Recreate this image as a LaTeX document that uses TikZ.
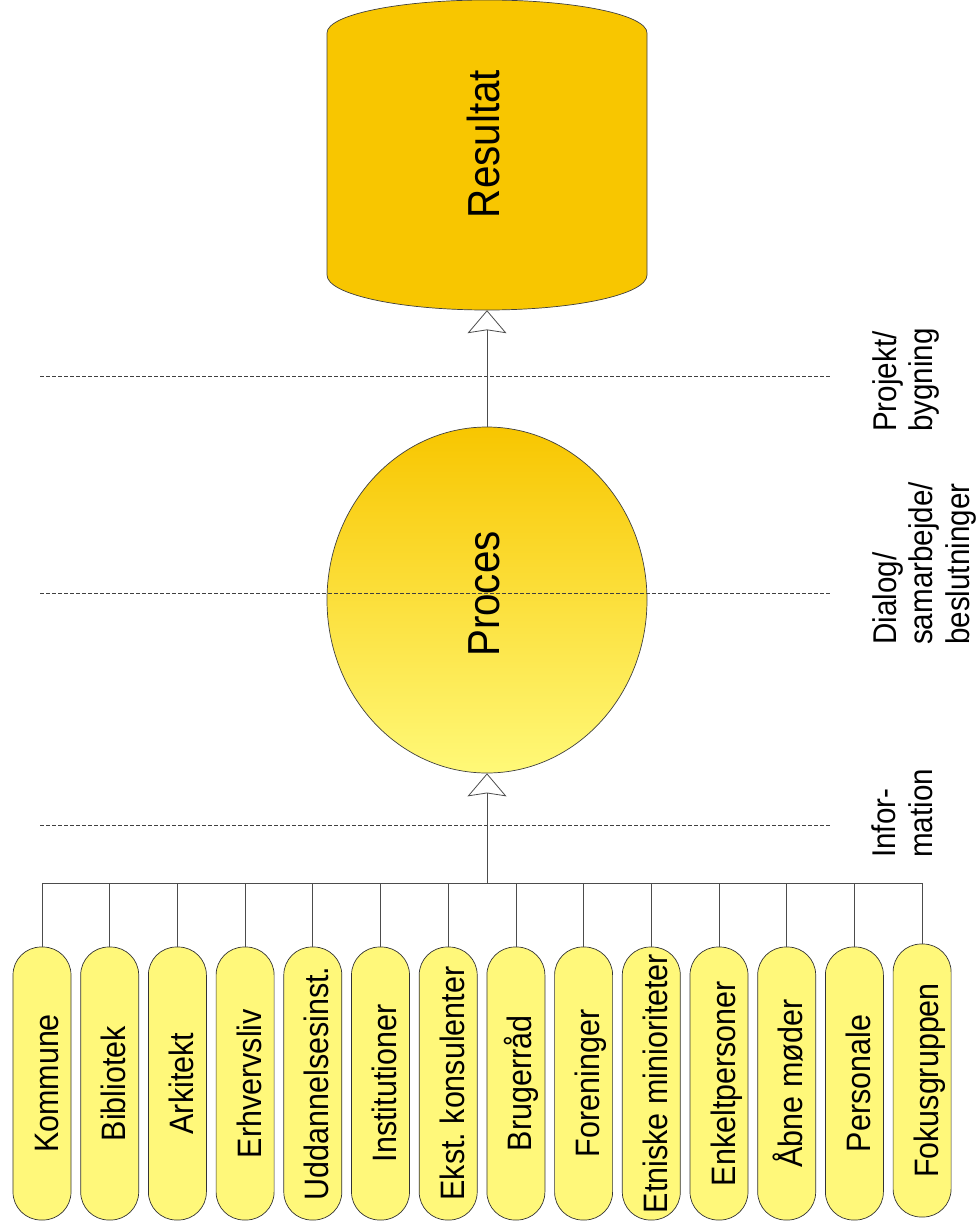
\documentclass[tikz,border=0pt]{standalone}
\usepackage{fontspec}
\setmainfont[FakeStretch=0.9]{Liberation Sans}
\usetikzlibrary{arrows.meta,shapes.geometric,calc}
\definecolor{resgold}{HTML}{F8C600}
\definecolor{pillyellow}{HTML}{FFF87A}
\definecolor{lightyellow}{HTML}{FFF978}
\definecolor{midgold}{HTML}{F9D535}
\begin{document}
\begin{tikzpicture}[x=1bp,y=-1bp,
  pill/.style={draw=black!80, line width=0.7bp, fill=pillyellow, rounded corners=28bp,
               minimum width=58bp, minimum height=273bp, inner sep=0pt},
  pilltext/.style={rotate=90, anchor=base, inner sep=0pt, font=\fontsize{34}{40}\selectfont},
  conn/.style={draw=black!70, line width=0.8bp},
  guide/.style={draw=black!75, line width=0.9bp, dash pattern=on 4bp off 2bp},
  openarrow/.style={-{Stealth[open, length=23bp, width=39bp, inset=3bp, line width=0.8bp]}},
  sidelabel/.style={rotate=90, anchor=north west, align=left, inner sep=0pt,
                    font=\fontsize{33}{37}\selectfont},
  bigtext/.style={rotate=90, anchor=base, inner sep=0pt, font=\fontsize{45}{50}\selectfont}]

\useasboundingbox (0,0) rectangle (976,1229);

% Resultat cylinder
\path[draw=black!75, line width=0.7bp, fill=resgold]
  (327,33) .. controls (327,14.8) and (398.6,0) .. (487,0)
  .. controls (575.4,0) and (647,14.8) .. (647,33)
  -- (647,275)
  .. controls (647,294.3) and (575.4,310) .. (487,310)
  .. controls (398.6,310) and (327,294.3) .. (327,275) -- cycle;
\node[minimum width=320bp, minimum height=310bp, inner sep=0pt] (res) at (487,155) {};
\node[bigtext] (restext) at (499,144) {Resultat};

% Proces ellipse
\node[ellipse, draw=black!75, line width=0.7bp, minimum width=320bp, minimum height=346bp,
      inner sep=0pt, top color=resgold, middle color=midgold, bottom color=lightyellow] (proc) at (487,600) {};

% dashed guides
\coordinate (g1l) at (40,376); \coordinate (g1r) at (830,376);
\coordinate (g2l) at (40,593); \coordinate (g2r) at (830,593);
\coordinate (g3l) at (40,825); \coordinate (g3r) at (830,825);
\draw[guide] (g1l) -- (g1r);
\draw[guide] (g2l) -- (g2r);
\draw[guide] (g3l) -- (g3r);

\node[bigtext] (proctext) at (499,594) {Proces};

% side labels
\node[sidelabel] (lab1) at (872,432) {Projekt/\\bygning};
\node[sidelabel] (lab2) at (872,645) {Dialog/\\samarbejde/\\beslutninger};
\node[sidelabel] (lab3) at (872,858) {Infor-\\mation};

% pills
\foreach \i/\t/\yc in {1/Kommune/1083.5, 2/Bibliotek/1083.5, 3/Arkitekt/1083.5,
    4/Erhvervsliv/1083.5, 5/Uddannelsesinst./1083.5, 6/Institutioner/1083.5,
    7/Ekst.\ konsulenter/1083.5, 8/Brugerråd/1083.5, 9/Foreninger/1083.5,
    10/Etniske minioriteter/1083.5, 11/Enkeltpersoner/1083.5, 12/Åbne møder/1083.5,
    13/Personale/1083.5, 14/Fokusgruppen/1080.5} {
  \pgfmathsetmacro\px{42+67.7*(\i-1)}
  \node[pill] (p\i) at (\px,\yc) {};
  \node[pilltext] (t\i) at ($(p\i.center)+(16,0)$) {\t};
}

% bus and connectors
\coordinate (busmid) at (487,883);
\draw[conn] (p1.north |- busmid) -- (p14.north |- busmid);
\foreach \i in {1,...,14} {
  \draw[conn] (p\i.north |- busmid) -- (p\i.north);
}
\draw[conn, openarrow] (busmid) -- (proc.south);
\draw[conn, openarrow] (proc.north) -- (res.south);
\end{tikzpicture}
\end{document}
